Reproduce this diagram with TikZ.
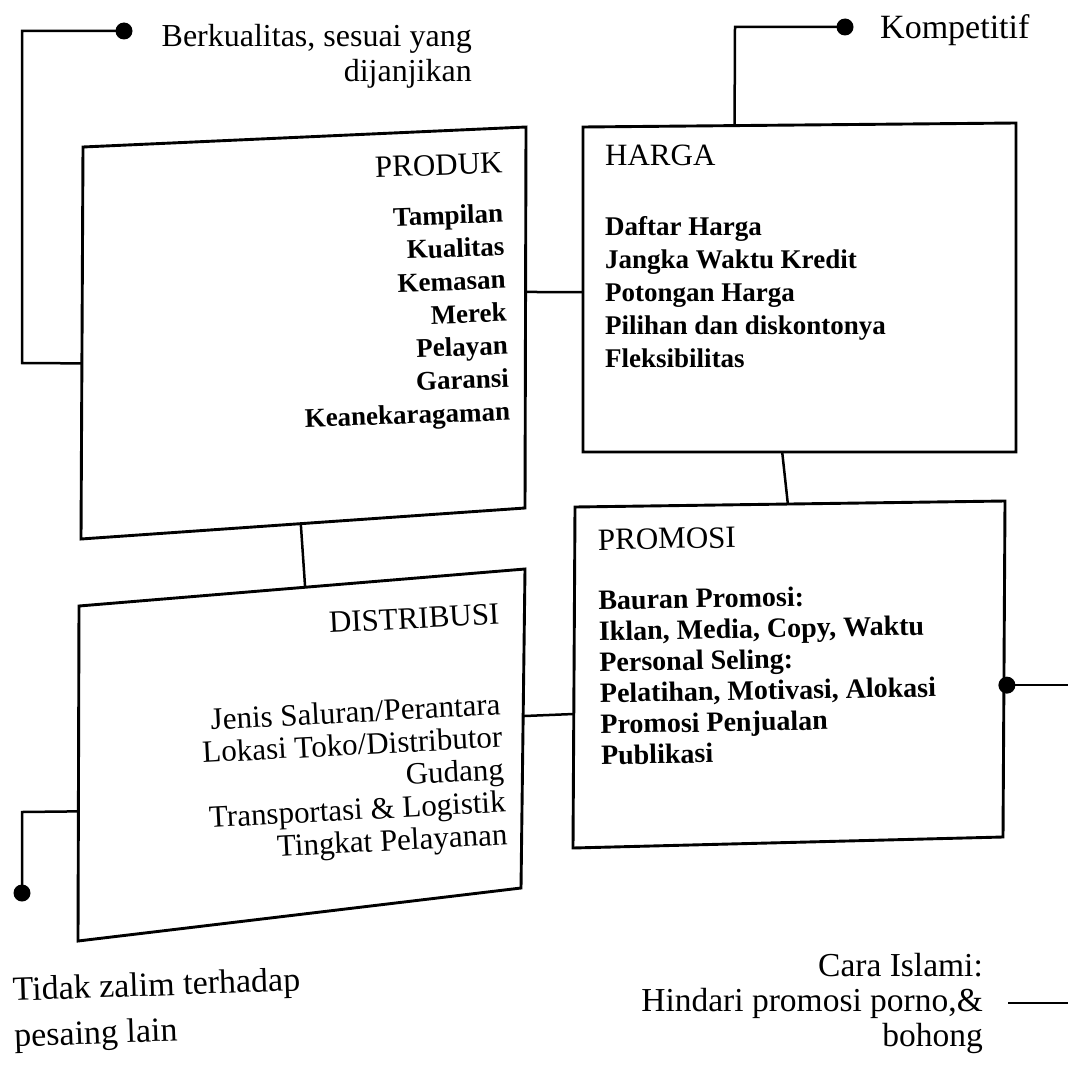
\documentclass[tikz,border=0pt]{standalone}
\usepackage{fontspec}
\setmainfont{Liberation Serif}
\usetikzlibrary{calc}
\begin{document}
\begin{tikzpicture}[x=1pt,y=-1pt,
  box/.style={line width=2.9pt,line join=miter},
  link/.style={line width=2.5pt},
  head/.style={font=\fontsize{31}{33}\selectfont,inner sep=0pt},
  items/.style={font=\fontsize{27}{33}\selectfont\bfseries,inner sep=0pt},
  ditems/.style={font=\fontsize{31}{32.5}\selectfont,inner sep=0pt},
  note/.style={inner sep=0pt},
  dot/.style={circle,fill=black,inner sep=0pt,minimum size=17pt}]
\useasboundingbox (0,0) rectangle (1068,1070);

% corners of the four boxes
\coordinate (pTL) at (83,147);  \coordinate (pTR) at (526,127);
\coordinate (pBR) at (525,508); \coordinate (pBL) at (81,539);
\coordinate (hTL) at (583,127); \coordinate (hTR) at (1016,123);
\coordinate (hBR) at (1016,452);\coordinate (hBL) at (583,452);
\coordinate (dTL) at (79,606);  \coordinate (dTR) at (525,569);
\coordinate (dBR) at (521,888); \coordinate (dBL) at (78,941);
\coordinate (mTL) at (575,507); \coordinate (mTR) at (1005,501);
\coordinate (mBR) at (1003,837);\coordinate (mBL) at (573,848);

\draw[box] (pTL) -- (pTR) -- (pBR) -- (pBL) -- cycle;
\draw[box] (hTL) -- (hTR) -- (hBR) -- (hBL) -- cycle;
\draw[box] (dTL) -- (dTR) -- (dBR) -- (dBL) -- cycle;
\draw[box] (mTL) -- (mTR) -- (mBR) -- (mBL) -- cycle;

% PRODUK
\node[head,anchor=base east,rotate=2] (produk) at (503,173) {PRODUK};
\node[items,anchor=north east,align=right,rotate=2] (produkitems) at (503,203.5)
  {Tampilan\\Kualitas\\Kemasan\\Merek\\Pelayan\\Garansi\\Keanekaragaman};

% HARGA
\node[head,anchor=base west] (harga) at (605,165) {HARGA};
\node[items,anchor=north west,align=left] (hargaitems) at (605,216.5)
  {Daftar Harga\\Jangka Waktu Kredit\\Potongan Harga\\Pilihan dan diskontonya\\Fleksibilitas};

% DISTRIBUSI
\node[head,anchor=base east,rotate=3] (distribusi) at (500,624) {DISTRIBUSI};
\node[ditems,anchor=north east,align=right,rotate=3] (distitems) at (500,693)
  {Jenis Saluran/Perantara\\Lokasi Toko/Distributor\\Gudang\\Transportasi \& Logistik\\Tingkat Pelayanan};

% PROMOSI
\node[head,anchor=base west,rotate=1] (promosi) at (598,550) {PROMOSI};
\node[items,anchor=north west,align=left,rotate=1,font=\fontsize{28}{31}\selectfont\bfseries] (promositems) at (598,590)
  {Bauran Promosi:\\Iklan, Media, Copy, Waktu\\Personal Seling:\\Pelatihan, Motivasi, Alokasi\\Promosi Penjualan\\Publikasi};

% notes outside the boxes
\node[note,anchor=north east,align=right,font=\fontsize{32}{35}\selectfont] (berk) at (472,24)
  {Berkualitas, sesuai yang\\dijanjikan};
\node[note,anchor=base west,font=\fontsize{34}{36}\selectfont] (komp) at (880,39) {Kompetitif};
\node[note,anchor=north west,align=left,rotate=2,font=\fontsize{34}{46}\selectfont] (zalim) at (12,977)
  {Tidak zalim terhadap\\pesaing lain};
\node[note,anchor=north east,align=right,font=\fontsize{33.5}{35}\selectfont] (islami) at (983,953)
  {Cara Islami:\\Hindari promosi porno,\&\\bohong};

% dots and connector ends
\node[dot] (dberk) at (124,31) {};
\node[dot] (dkomp) at (845,27) {};
\node[dot] (dzalim) at (22,893) {};
\node[dot] (dpromo) at ($(mTR)!0.548!(mBR)+(3,0)$) {};
\coordinate (c1) at (22,31);
\coordinate (c2) at (22,363);
\coordinate (k1) at (735,27);
\coordinate (z1) at (22,812);
\coordinate (eout) at (1068,685);
\coordinate (hstart) at (1008,1003);
\coordinate (hend) at (1068,1003);

% connectors
\draw[link] (dberk.center) -- (c1) -- (c2) -- ($(pTL)!0.552!(pBL)$);
\draw[link] ($(hTL)!0.35!(hTR)$) -- (k1) -- (dkomp.center);
\draw[link] ($(pTR)!0.433!(pBR)$) -- ($(hTL)!0.508!(hBL)$);
\draw[link] ($(pBL)!0.495!(pBR)$) -- ($(dTL)!0.507!(dTR)$);
\draw[link] ($(hBL)!0.46!(hBR)$) -- ($(mTL)!0.495!(mTR)$);
\draw[link] ($(dTR)!0.461!(dBR)$) -- ($(mTL)!0.607!(mBL)$);
\draw[link] ($(dTL)!0.613!(dBL)$) -- (z1) -- (dzalim.center);
\draw[link] (dpromo.center) -- (eout |- dpromo.center);
\draw[link] (hstart) -- (hend);
\end{tikzpicture}
\end{document}
